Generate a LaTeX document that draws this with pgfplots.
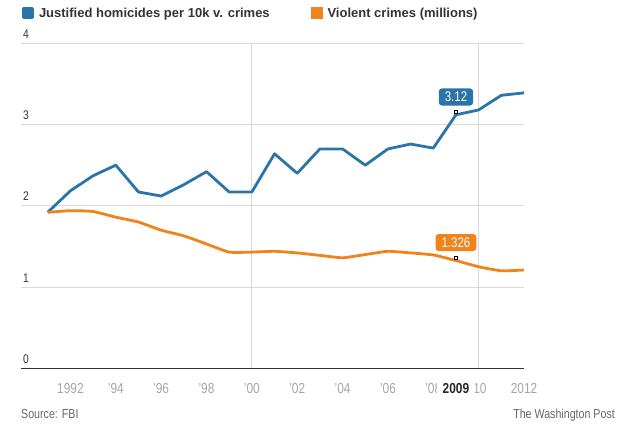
\documentclass[border=0pt]{standalone}
\usepackage{pgfplots}
\pgfplotsset{compat=1.18}
\usepackage{fontspec}
\setmainfont{Liberation Sans}
\newfontfamily\narrow[FakeStretch=0.82]{Liberation Sans}
\definecolor{wpblue}{RGB}{42,117,168}
\definecolor{wporange}{RGB}{240,131,27}
\definecolor{gridc}{RGB}{217,217,217}
\definecolor{tickc}{RGB}{165,165,165}
\definecolor{txt}{RGB}{51,51,51}
\definecolor{srcc}{RGB}{102,102,102}
\begin{document}
\begin{tikzpicture}
\path[use as bounding box] (0,0) rectangle (636pt,429pt);
\begin{axis}[
  at={(21pt,60.7pt)}, anchor=south west,
  scale only axis, width=503pt, height=325pt,
  xmin=1989.82, xmax=2012, ymin=0, ymax=4,
  axis x line=bottom, axis y line=left,
  x axis line style={-, draw=txt, line width=1.3pt},
  y axis line style={draw=none},
  xtick={1992,1994,...,2012},
  xticklabels={1992,’94,’96,’98,’00,’02,’04,’06,’08,’10,2012},
  ytick={0,1,2,3,4}, yticklabels={0,1,2,3,4},
  major tick length=0pt,
  ymajorgrids, grid style={gridc, line width=0.9pt},
  extra x ticks={2000,2010}, extra x tick labels={},
  extra x tick style={grid=major},
  clip=false,
  xticklabel style={font=\narrow\fontsize{14.5}{14.5}\selectfont, text=tickc, anchor=base, inner sep=0pt, yshift=-25pt},
  yticklabel style={font=\narrow\fontsize{12.5}{12.5}\selectfont, text=txt, anchor=base west, inner sep=0pt, xshift=2pt, yshift=5pt},
  legend columns=2,
  legend style={at={(axis description cs:0.002,1.093)}, anchor=west, draw=none, fill=none,
    font=\bfseries\fontsize{13}{13}\selectfont, text=txt, inner sep=0pt,
    nodes={inner sep=0pt},
    /tikz/every odd column/.append style={column sep=5pt},
    /tikz/every even column/.append style={column sep=41pt}},
  legend image code/.code={\fill (0pt,-4.5pt) rectangle (9pt,4.5pt);},
]
\addplot[wpblue, line width=2.8pt, line join=round] coordinates {
(1991,1.92) (1992,2.185) (1993,2.37) (1994,2.50) (1995,2.17) (1996,2.12)
(1997,2.26) (1998,2.42) (1999,2.17) (2000,2.17) (2001,2.64) (2002,2.40)
(2003,2.70) (2004,2.70) (2005,2.50) (2006,2.70) (2007,2.76) (2008,2.71)
(2009,3.12) (2010,3.18) (2011,3.36) (2012,3.39)};
\addlegendentry{Justified homicides per 10k v. crimes}
\addplot[wporange, line width=2.8pt, smooth, tension=0.3] coordinates {
(1991,1.92) (1992,1.94) (1993,1.93) (1994,1.86) (1995,1.80) (1996,1.70)
(1997,1.63) (1998,1.53) (1999,1.43) (2000,1.43) (2001,1.44) (2002,1.42)
(2003,1.39) (2004,1.36) (2005,1.40) (2006,1.44) (2007,1.42) (2008,1.395)
(2009,1.326) (2010,1.25) (2011,1.20) (2012,1.21)};
\addlegendentry{Violent crimes (millions)}
\addplot[only marks, mark=square*, mark size=1.6pt, mark options={fill=white, draw=black, line width=0.6pt, yshift=3pt}, forget plot] coordinates {(2009,3.12) (2009,1.326)};
\node[fill=wpblue, text=white, rounded corners=3pt, inner xsep=6pt, inner ysep=0pt,
  minimum height=17pt, text height=10pt, text depth=0pt, anchor=center,
  font=\narrow\fontsize{14}{14}\selectfont, yshift=17.8pt] at (axis cs:2009,3.12) {3.12};
\node[fill=wporange, text=white, rounded corners=3pt, inner xsep=6pt, inner ysep=0pt,
  minimum height=17pt, text height=10pt, text depth=0pt, anchor=center,
  font=\narrow\fontsize{14}{14}\selectfont, yshift=18pt] at (axis cs:2009,1.326) {1.326};
\coordinate (y2009) at (axis cs:2009,0);
\end{axis}
\node[fill=white, anchor=base, inner xsep=5.5pt, inner ysep=1pt, text=black!85,
  font=\narrow\bfseries\fontsize{14.5}{14.5}\selectfont, yshift=-25pt] at (y2009) {2009};
\node[anchor=base west, inner sep=0pt, text=srcc, font=\narrow\fontsize{13}{13}\selectfont] at (21pt,10.3pt) {Source: FBI};
\node[anchor=base east, inner sep=0pt, text=srcc, font=\narrow\fontsize{13}{13}\selectfont] at (615pt,10.3pt) {The Washington Post};
\end{tikzpicture}
\end{document}
